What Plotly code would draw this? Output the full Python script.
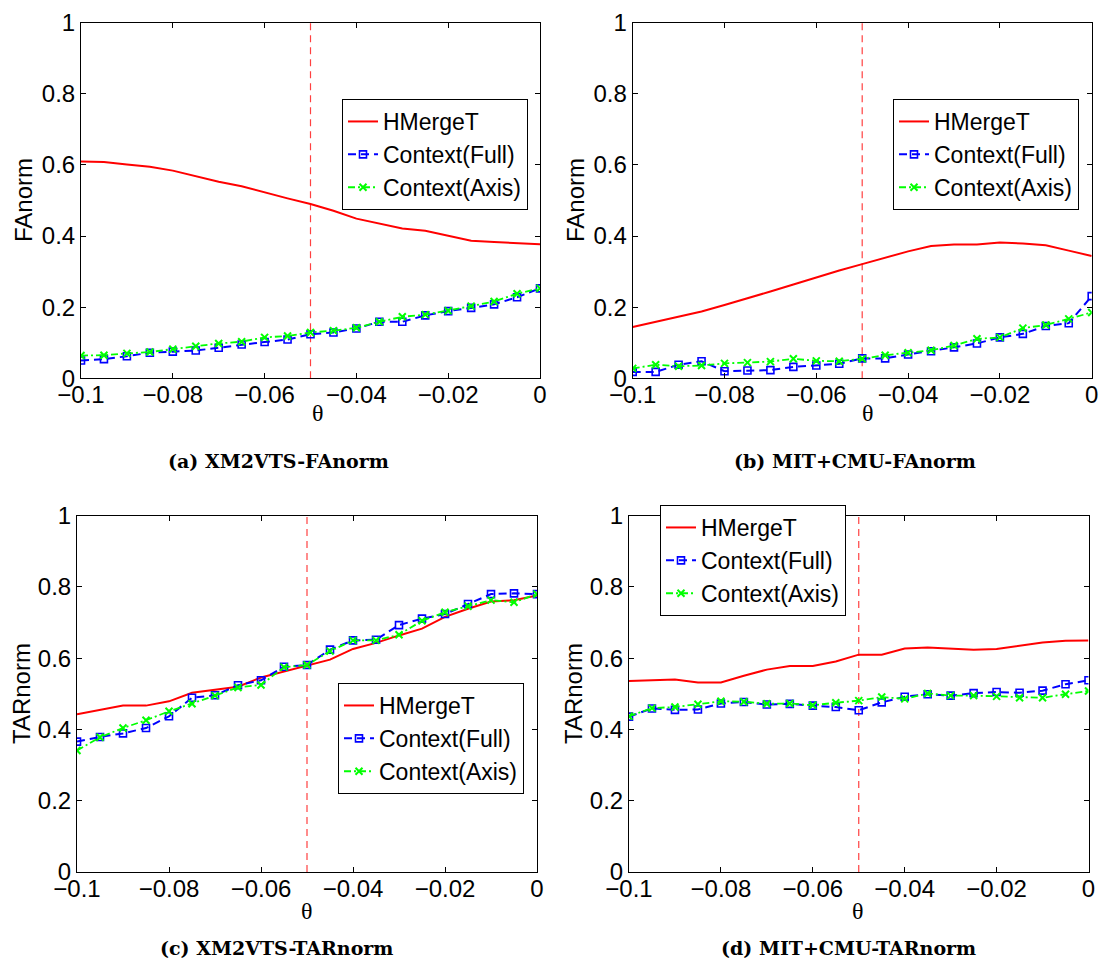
import plotly.graph_objects as go

# ---------------- data ----------------
THETA = [-0.100, -0.095, -0.090, -0.085, -0.080, -0.075, -0.070, -0.065, -0.060, -0.055,
         -0.050, -0.045, -0.040, -0.035, -0.030, -0.025, -0.020, -0.015, -0.010, -0.005, 0.000]
THETA_CUT = -0.05

SERIES_NAMES = ["HMergeT", "Context(Full)", "Context(Axis)"]

A_HMERGET = [0.610, 0.608, 0.601, 0.595, 0.584, 0.568, 0.553, 0.540, 0.522, 0.506, 0.490,
             0.471, 0.449, 0.435, 0.421, 0.415, 0.401, 0.387, 0.383, 0.380, 0.377]
A_FULL = [0.050, 0.054, 0.062, 0.072, 0.075, 0.078, 0.086, 0.095, 0.102, 0.109, 0.124,
          0.129, 0.140, 0.159, 0.159, 0.177, 0.189, 0.198, 0.208, 0.228, 0.253]
A_AXIS = [0.064, 0.065, 0.070, 0.074, 0.082, 0.090, 0.098, 0.103, 0.115, 0.119, 0.129,
          0.134, 0.142, 0.159, 0.173, 0.179, 0.190, 0.203, 0.216, 0.238, 0.253]

B_HMERGET = [0.144, 0.159, 0.174, 0.188, 0.206, 0.224, 0.244, 0.264, 0.284, 0.303, 0.321,
             0.340, 0.357, 0.372, 0.376, 0.376, 0.382, 0.379, 0.374, 0.359, 0.344]
B_FULL = [0.018, 0.018, 0.038, 0.048, 0.020, 0.022, 0.023, 0.032, 0.036, 0.041, 0.056,
          0.056, 0.067, 0.076, 0.087, 0.098, 0.115, 0.125, 0.147, 0.155, 0.231]
B_AXIS = [0.028, 0.038, 0.034, 0.036, 0.042, 0.044, 0.047, 0.055, 0.049, 0.048, 0.055,
          0.065, 0.072, 0.079, 0.092, 0.111, 0.115, 0.141, 0.150, 0.167, 0.185]

C_HMERGET = [0.443, 0.454, 0.467, 0.467, 0.479, 0.503, 0.512, 0.520, 0.546, 0.563, 0.579,
             0.596, 0.626, 0.643, 0.664, 0.683, 0.716, 0.739, 0.759, 0.763, 0.776]
C_FULL = [0.366, 0.379, 0.389, 0.404, 0.437, 0.489, 0.496, 0.524, 0.538, 0.576, 0.581,
          0.624, 0.650, 0.652, 0.693, 0.711, 0.724, 0.752, 0.780, 0.782, 0.780]
C_AXIS = [0.341, 0.378, 0.404, 0.426, 0.451, 0.472, 0.495, 0.518, 0.525, 0.575, 0.581,
          0.620, 0.650, 0.650, 0.666, 0.705, 0.729, 0.746, 0.763, 0.757, 0.780]

D_HMERGET = [0.536, 0.538, 0.540, 0.532, 0.532, 0.551, 0.568, 0.578, 0.578, 0.591, 0.610,
             0.610, 0.627, 0.630, 0.627, 0.624, 0.626, 0.636, 0.644, 0.649, 0.650]
D_FULL = [0.436, 0.459, 0.455, 0.456, 0.473, 0.477, 0.470, 0.472, 0.467, 0.463, 0.454,
          0.476, 0.492, 0.499, 0.495, 0.502, 0.505, 0.503, 0.509, 0.527, 0.538]
D_AXIS = [0.437, 0.460, 0.463, 0.471, 0.479, 0.478, 0.472, 0.473, 0.468, 0.475, 0.481,
          0.491, 0.486, 0.501, 0.495, 0.495, 0.493, 0.489, 0.489, 0.499, 0.508]

X_TICKS = [-0.1, -0.08, -0.06, -0.04, -0.02, 0]
X_TICKTEXT = ["\u22120.1", "\u22120.08", "\u22120.06", "\u22120.04", "\u22120.02", "0"]
Y_TICKS = [0, 0.2, 0.4, 0.6, 0.8, 1]
Y_TICKTEXT = ["0", "0.2", "0.4", "0.6", "0.8", "1"]

Y_TITLES = ["FAnorm", "FAnorm", "TARnorm", "TARnorm"]
X_TITLE = "\u03b8"
CAPTIONS = ["(a) XM2VTS-FAnorm", "(b) MIT+CMU-FAnorm", "(c) XM2VTS-TARnorm", "(d) MIT+CMU-TARnorm"]

PANELS = [
    (A_HMERGET, A_FULL, A_AXIS),
    (B_HMERGET, B_FULL, B_AXIS),
    (C_HMERGET, C_FULL, C_AXIS),
    (D_HMERGET, D_FULL, D_AXIS),
]

# ---------------- layout geometry (pixels) ----------------
W, H = 1099, 963
SANS = "Liberation Sans, Arial, Helvetica, sans-serif"
SERIF = "DejaVu Serif, serif"

# plot areas: (left, right, top, bottom) in px
AREAS = [(81, 540, 22.7, 378.3), (632.7, 1091.7, 22.7, 378.3),
         (77, 537, 515.7, 872), (629, 1088.5, 515.7, 872)]
LEGEND_POS = [(342, 99), (893, 99), (338, 683), (660, 505)]
YTITLE_POS = [(24, 200), (576, 200), (21, 694), (573, 694)]
XTITLE_POS = [(318, 413), (868, 413), (307, 911), (858, 911)]
CAPTION_POS = [(278, 461), (855, 461), (276, 948), (848, 948)]

fig = go.Figure()
layout = dict(width=W, height=H, margin=dict(l=0, r=0, t=0, b=0),
              paper_bgcolor="white", plot_bgcolor="white", template="none",
              showlegend=True, annotations=[])

for k, (hm, full, axis) in enumerate(PANELS):
    sfx = "" if k == 0 else str(k + 1)
    xa, ya = "x" + sfx, "y" + sfx
    leg = "legend" + sfx
    # vertical threshold line
    fig.add_trace(go.Scatter(x=[THETA_CUT, THETA_CUT], y=[0, 1], mode="lines",
                             line=dict(color="#ff4040", width=1.2, dash="7px,5px"),
                             showlegend=False, hoverinfo="skip", xaxis=xa, yaxis=ya))
    fig.add_trace(go.Scatter(x=THETA, y=hm, mode="lines", name=SERIES_NAMES[0],
                             line=dict(color="#ff0000", width=2),
                             xaxis=xa, yaxis=ya, legend=leg))
    fig.add_trace(go.Scatter(x=THETA, y=full, mode="lines+markers", name=SERIES_NAMES[1],
                             line=dict(color="#0000ff", width=2, dash="8px,5px"),
                             marker=dict(symbol="square-open", size=7, color="#0000ff",
                                         line=dict(width=1.6, color="#0000ff")),
                             xaxis=xa, yaxis=ya, legend=leg))
    fig.add_trace(go.Scatter(x=THETA, y=axis, mode="lines+markers", name=SERIES_NAMES[2],
                             line=dict(color="#00ff00", width=1.8, dash="7px,3px,2px,3px"),
                             marker=dict(symbol="x-thin-open", size=7, color="#00ff00",
                                         line=dict(width=2, color="#00ff00")),
                             xaxis=xa, yaxis=ya, legend=leg))

    l, r, t, b = AREAS[k]
    common = dict(showline=True, linecolor="black", linewidth=1, mirror="ticks",
                  ticks="inside", ticklen=5, tickcolor="black", tickwidth=1,
                  showgrid=False, zeroline=False, automargin=False,
                  ticklabeloverflow="allow",
                  tickfont=dict(family=SANS, size=24, color="black"))
    layout["xaxis" + sfx] = dict(domain=[l / W, r / W], range=[-0.1, 0], anchor=ya,
                                 tickvals=X_TICKS, ticktext=X_TICKTEXT,
                                 ticklabelstandoff=-5, **common)
    layout["yaxis" + sfx] = dict(domain=[1 - b / H, 1 - t / H], range=[0, 1], anchor=xa,
                                 tickvals=Y_TICKS, ticktext=Y_TICKTEXT, **common)

    lx, ly = LEGEND_POS[k]
    layout[leg] = dict(x=lx / W, y=1 - ly / H, xanchor="left", yanchor="top",
                       xref="paper", yref="paper",
                       bgcolor="white", bordercolor="black", borderwidth=1,
                       font=dict(family=SANS, size=23, color="black"),
                       itemwidth=30, tracegroupgap=0)

    tx, ty = YTITLE_POS[k]
    layout["annotations"].append(dict(text=Y_TITLES[k], x=tx / W, y=1 - ty / H, xref="paper",
                                      yref="paper", showarrow=False, textangle=-90,
                                      xanchor="center", yanchor="middle",
                                      font=dict(family=SANS, size=24, color="black")))
    tx, ty = XTITLE_POS[k]
    layout["annotations"].append(dict(text=X_TITLE, x=tx / W, y=1 - ty / H, xref="paper",
                                      yref="paper", showarrow=False,
                                      xanchor="center", yanchor="middle",
                                      font=dict(family="Liberation Serif, serif", size=24,
                                                color="black")))
    tx, ty = CAPTION_POS[k]
    layout["annotations"].append(dict(text="<b>" + CAPTIONS[k] + "</b>", x=tx / W,
                                      y=1 - ty / H, xref="paper", yref="paper",
                                      showarrow=False, xanchor="center", yanchor="middle",
                                      font=dict(family=SERIF, size=19, color="black")))

fig.update_layout(**layout)
fig.write_html("out.html", config={"displayModeBar": False},
               post_script="document.body.style.margin='0px';")
